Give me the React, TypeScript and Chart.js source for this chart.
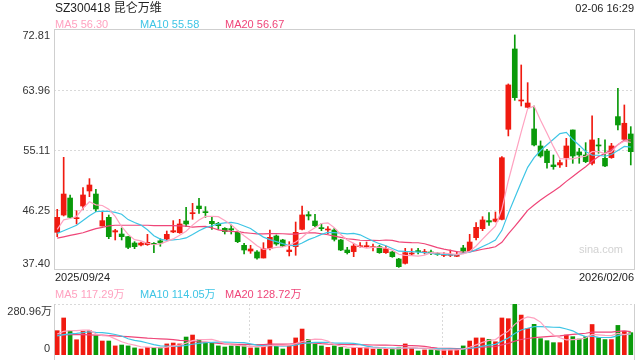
import React, { useEffect, useRef } from "react";
import { Chart, registerables } from "chart.js";

Chart.register(...registerables);

const FONT = '"Liberation Sans", Arial, "Noto Sans CJK SC", sans-serif';
const RED = "#f01a10";
const GREEN = "#0a9a0a";
const MA5_COLOR = "#ffa2c0";
const MA10_COLOR = "#3ec5e5";
const MA20_COLOR = "#ef4679";

// trading days (categories)
const sepDays = [24, 25, 26, 29, 30];
const octDays = [9, 10, 13, 14, 15, 16, 17, 20, 21, 22, 23, 24, 27, 28, 29, 30, 31];
const novDays = [3, 4, 5, 6, 7, 10, 11, 12, 13, 14, 17, 18, 19, 20, 21, 24, 25, 26, 27, 28];
const decDays = [1, 2, 3, 4, 5, 8, 9, 10, 11, 12, 15, 16, 17, 18, 19, 22, 23, 24, 25, 26, 29, 30, 31];
const janDays = [5, 6, 7, 8, 9, 12, 13, 14, 15, 16, 19, 20, 21, 22, 23, 26, 27, 28, 29, 30];
const febDays = [2, 3, 4, 5, 6];

const pad = (n: number) => (n < 10 ? "0" + n : "" + n);
const dates: string[] = [
  ...sepDays.map((d) => `2025/09/${pad(d)}`),
  ...octDays.map((d) => `2025/10/${pad(d)}`),
  ...novDays.map((d) => `2025/11/${pad(d)}`),
  ...decDays.map((d) => `2025/12/${pad(d)}`),
  ...janDays.map((d) => `2026/01/${pad(d)}`),
  ...febDays.map((d) => `2026/02/${pad(d)}`),
];

const opens = [
  42.96, 45.51, 48.02, 44.97, 46.84, 49.06, 48.61, 43.89, 45.17, 43.01,
  42.71, 42.32, 41.38, 41.09, 41.14, 41.33, 41.7, 41.97, 43.01, 42.91,
  44.63, 45.71, 46.84, 45.96, 44.58, 44.29, 43.55, 43.5, 43.06, 41.04,
  40.2, 40.06, 39.17, 40.55, 42.42, 41.83, 40.11, 40.84, 43.4, 45.57,
  44.63, 43.65, 43.3, 43.3, 41.83, 40.35, 40.11, 40.84, 40.84, 40.7,
  40.84, 39.96, 40.06, 39.02, 38.38, 39.76, 40.25, 39.96, 40.06, 39.81,
  39.56, 39.56, 39.42, 40.65, 40.2, 42.17, 43.5, 44.68, 44.58, 44.87,
  58.16, 70.01, 62.34, 61.4, 58.21, 55.7, 54.96, 52.9, 52.9, 53.98,
  58.06, 54.82, 54.37, 53.14, 55.85, 53.88, 53.98, 60.03, 56.68, 57.47,
];
const highs = [
  46.35, 54.02, 48.47, 46.15, 49.55, 50.88, 49.3, 46.01, 45.51, 43.4,
  43.6, 42.37, 41.58, 41.53, 42.66, 41.43, 42.0, 43.15, 44.68, 44.88,
  46.65, 47.24, 47.98, 46.75, 45.17, 44.43, 43.65, 44.04, 43.2, 41.34,
  41.04, 40.25, 41.43, 43.3, 42.57, 41.93, 41.58, 44.48, 46.84, 46.01,
  45.61, 44.29, 43.79, 43.55, 41.93, 40.75, 41.34, 41.43, 41.53, 41.24,
  41.04, 40.94, 40.16, 39.12, 40.6, 40.55, 40.6, 40.45, 40.35, 39.96,
  39.96, 40.35, 40.11, 41.04, 42.66, 44.38, 45.27, 45.86, 45.96, 54.12,
  64.85, 72.08, 67.65, 65.04, 61.6, 56.44, 55.21, 54.37, 53.63, 56.83,
  58.06, 55.36, 56.19, 60.13, 56.83, 56.59, 56.09, 64.21, 61.75, 58.55,
];
const lows = [
  42.32, 45.37, 45.1, 44.19, 46.35, 48.22, 46.01, 43.89, 42.02, 41.83,
  41.83, 40.55, 40.55, 40.94, 41.04, 39.96, 40.9, 41.83, 42.91, 42.81,
  43.79, 44.88, 45.76, 45.17, 43.4, 43.4, 42.71, 42.71, 41.43, 39.76,
  39.86, 38.98, 39.17, 40.35, 41.04, 40.84, 39.47, 39.57, 43.3, 44.78,
  43.79, 43.2, 42.71, 41.68, 40.25, 39.76, 39.37, 40.75, 40.75, 40.2,
  39.86, 39.86, 39.27, 37.79, 38.28, 39.56, 39.76, 39.76, 39.66, 39.56,
  39.37, 39.37, 39.37, 39.96, 40.11, 41.83, 43.2, 43.99, 44.48, 44.78,
  57.18, 62.44, 61.6, 61.4, 55.7, 54.03, 52.41, 52.26, 52.55, 52.65,
  53.14, 53.14, 53.24, 52.9, 54.62, 52.65, 53.88, 58.06, 56.59, 52.9,
];
const closes = [
  45.17, 48.61, 45.17, 45.12, 48.47, 49.94, 46.4, 44.68, 42.32, 43.2,
  42.32, 40.74, 40.84, 41.38, 41.48, 41.19, 41.4, 42.66, 43.2, 44.19,
  44.19, 45.86, 46.45, 45.86, 44.24, 43.94, 43.06, 43.3, 41.58, 40.35,
  40.5, 39.17, 40.55, 42.22, 41.24, 40.94, 40.35, 42.96, 45.52, 45.37,
  43.94, 43.5, 43.45, 41.93, 40.35, 39.96, 40.94, 40.94, 40.94, 40.84,
  39.96, 40.55, 39.37, 37.89, 39.96, 39.86, 40.11, 40.06, 39.86, 39.71,
  39.66, 39.71, 39.56, 40.2, 41.53, 43.7, 44.78, 44.48, 44.92, 53.97,
  64.7, 62.83, 62.49, 62.04, 55.85, 54.22, 53.24, 52.65, 53.24, 55.7,
  54.22, 54.37, 53.39, 56.59, 55.7, 52.75, 55.7, 58.8, 59.05, 54.86,
];
// volume, in 万
const volumes = [
  134, 204, 132, 84, 130, 134, 106, 77, 77, 50,
  55, 50, 39, 33, 42, 42, 40, 61, 66, 61,
  99, 110, 86, 68, 68, 50, 44, 50, 52, 50,
  39, 40, 50, 83, 50, 33, 52, 94, 143, 86,
  60, 50, 42, 50, 42, 33, 42, 40, 40, 33,
  33, 33, 33, 39, 61, 37, 22, 28, 28, 28,
  28, 28, 31, 50, 77, 94, 94, 86, 73, 204,
  200, 280.96, 220, 146, 169, 90, 79, 68, 68, 110,
  101, 88, 101, 168, 96, 85, 85, 163, 131, 123,
];

// moving-average values at the start of the window
const ma5Head = [43.4, 44.8, 45.0, 45.3];
const ma10Head = [42.8, 43.2, 43.6, 44.0, 44.7, 45.4, 46.0, 46.1, 46.05];
const ma20Head = [42.1, 42.3, 42.5, 42.7, 42.9, 43.2, 43.5, 43.7, 43.9, 44.0, 44.0, 44.0, 44.0, 44.0, 44.0, 43.95, 43.95, 43.95, 43.95];
const vma5Head = [116, 130, 134, 134];
const vma10Head = [105, 112, 116, 119, 123, 128, 125, 123, 119];
const vma20Head = [110, 111, 112, 112, 112, 111, 110, 109, 107, 105, 103, 101, 99, 96, 93, 91, 89, 87, 85];

const priceTicks = [72.81, 63.96, 55.11, 46.25, 37.4];
const volumeMax = 280.96;
const volumeTickLabels = ["280.96万", "0"];

const title = "SZ300418 昆仑万维";
const timeText = "02-06 16:29";
const priceLegend = [
  { text: "MA5 56.30", color: MA5_COLOR, x: 55 },
  { text: "MA10 55.58", color: MA10_COLOR, x: 140 },
  { text: "MA20 56.67", color: MA20_COLOR, x: 225 },
];
const volumeLegend = [
  { text: "MA5 117.29万", color: MA5_COLOR, x: 55 },
  { text: "MA10 114.05万", color: MA10_COLOR, x: 140 },
  { text: "MA20 128.72万", color: MA20_COLOR, x: 225 },
];

function movingAvg(src: number[], n: number, head: number[]): number[] {
  return src.map((_, i) => {
    if (i < n - 1) return head[i];
    let s = 0;
    for (let k = i - n + 1; k <= i; k++) s += src[k];
    return s / n;
  });
}

const candleColors = closes.map((c, i) => (c >= opens[i] ? RED : GREEN));

function lineDs(label: string, data: number[], color: string) {
  return {
    type: "line" as const,
    label,
    data,
    borderColor: color,
    backgroundColor: color,
    borderWidth: 1.2,
    pointRadius: 0,
    tension: 0,
    order: 0,
  };
}

const mainDeco = {
  id: "mainDeco",
  beforeDatasetsDraw(chart: any) {
    const { ctx, chartArea: a, scales } = chart;
    const y = scales.y;
    ctx.save();
    ctx.lineWidth = 1;
    ctx.strokeStyle = "#d9d9d9";
    ctx.setLineDash([2, 2]);
    priceTicks.slice(1, -1).forEach((v) => {
      const py = Math.round(y.getPixelForValue(v)) + 0.5;
      ctx.beginPath();
      ctx.moveTo(a.left, py);
      ctx.lineTo(a.right, py);
      ctx.stroke();
    });
    ctx.setLineDash([]);
    ctx.strokeStyle = "#cfcfcf";
    ctx.strokeRect(a.left + 0.5, a.top - 0.5, a.right - a.left, a.bottom - a.top);
    // watermark
    ctx.fillStyle = "#d2d2d2";
    ctx.font = `11px ${FONT}`;
    ctx.textAlign = "right";
    ctx.textBaseline = "alphabetic";
    ctx.fillText("sina.com", a.right - 11, a.bottom - 17);
    ctx.restore();
  },
  afterDraw(chart: any) {
    const { ctx, chartArea: a, scales } = chart;
    const y = scales.y;
    ctx.save();
    ctx.textBaseline = "alphabetic";
    ctx.textAlign = "left";
    ctx.fillStyle = "#222";
    ctx.font = `12px ${FONT}`;
    ctx.fillText(title, 55, 12);
    ctx.font = `11px ${FONT}`;
    ctx.textAlign = "right";
    ctx.fillText(timeText, a.right, 12);
    ctx.textAlign = "left";
    priceLegend.forEach((l) => {
      ctx.fillStyle = l.color;
      ctx.fillText(l.text, l.x, 28);
    });
    ctx.fillStyle = "#333";
    ctx.textAlign = "right";
    priceTicks.forEach((v, i) => {
      const py = y.getPixelForValue(v);
      const base = i === 0 ? py + 9 : i === priceTicks.length - 1 ? py - 3 : py + 4;
      ctx.fillText(v.toFixed(2), 50, base);
    });
    ctx.fillStyle = "#222";
    ctx.textAlign = "left";
    ctx.fillText(dates[0], a.left + 1, 281);
    ctx.textAlign = "right";
    ctx.fillText(dates[dates.length - 1], a.right, 281);
    ctx.restore();
  },
};

const volDeco = {
  id: "volDeco",
  beforeDatasetsDraw(chart: any) {
    const { ctx, chartArea: a, scales } = chart;
    const x = scales.x;
    ctx.save();
    ctx.lineWidth = 1;
    ctx.strokeStyle = "#d9d9d9";
    ctx.setLineDash([2, 2]);
    ctx.beginPath();
    ctx.moveTo(a.left, a.top + 0.5);
    ctx.lineTo(a.right, a.top + 0.5);
    ctx.stroke();
    [29.75, 59.75].forEach((v) => {
      const px = Math.round(x.getPixelForValue(v)) + 0.5;
      ctx.beginPath();
      ctx.moveTo(px, a.top);
      ctx.lineTo(px, a.bottom + 5);
      ctx.stroke();
    });
    ctx.setLineDash([]);
    ctx.strokeStyle = "#cfcfcf";
    ctx.beginPath();
    ctx.moveTo(a.left + 0.5, a.top);
    ctx.lineTo(a.left + 0.5, a.bottom + 5);
    ctx.moveTo(a.right + 0.5, a.top);
    ctx.lineTo(a.right + 0.5, a.bottom + 5);
    ctx.stroke();
    ctx.restore();
  },
  afterDraw(chart: any) {
    const { ctx, chartArea: a } = chart;
    ctx.save();
    ctx.textBaseline = "alphabetic";
    ctx.font = `11px ${FONT}`;
    ctx.textAlign = "left";
    volumeLegend.forEach((l) => {
      ctx.fillStyle = l.color;
      ctx.fillText(l.text, l.x, 13);
    });
    ctx.fillStyle = "#333";
    ctx.textAlign = "right";
    ctx.fillText(volumeTickLabels[0], 52, a.top + 11);
    ctx.fillText(volumeTickLabels[1], 50, a.bottom - 3);
    ctx.restore();
  },
};

export default function App() {
  const mainRef = useRef<HTMLCanvasElement>(null);
  const volRef = useRef<HTMLCanvasElement>(null);

  useEffect(() => {
    const ma5 = movingAvg(closes, 5, ma5Head);
    const ma10 = movingAvg(closes, 10, ma10Head);
    const ma20 = movingAvg(closes, 20, ma20Head);
    const vma5 = movingAvg(volumes, 5, vma5Head);
    const vma10 = movingAvg(volumes, 10, vma10Head);
    const vma20 = movingAvg(volumes, 20, vma20Head);

    const main = new Chart(mainRef.current as HTMLCanvasElement, {
      type: "bar",
      data: {
        labels: dates,
        datasets: [
          lineDs("MA5", ma5, MA5_COLOR),
          lineDs("MA10", ma10, MA10_COLOR),
          lineDs("MA20", ma20, MA20_COLOR),
          {
            type: "bar",
            label: "wick",
            data: lows.map((l, i) => [l, highs[i]]),
            backgroundColor: candleColors,
            barThickness: 1,
            grouped: false,
            order: 2,
          } as any,
          {
            type: "bar",
            label: "body",
            data: opens.map((o, i) => [Math.min(o, closes[i]), Math.max(o, closes[i])]),
            backgroundColor: candleColors,
            barThickness: 5,
            minBarLength: 1,
            grouped: false,
            order: 1,
          } as any,
        ],
      },
      options: {
        responsive: false,
        animation: false,
        devicePixelRatio: 1,
        layout: { padding: { left: 54, right: 6, top: 30, bottom: 15 } },
        plugins: { legend: { display: false }, tooltip: { enabled: false } },
        scales: {
          x: { display: false, offset: true },
          y: { display: false, min: priceTicks[priceTicks.length - 1], max: priceTicks[0] },
        },
      },
      plugins: [mainDeco],
    } as any);

    const vol = new Chart(volRef.current as HTMLCanvasElement, {
      type: "bar",
      data: {
        labels: dates,
        datasets: [
          lineDs("MA5", vma5, MA5_COLOR),
          lineDs("MA10", vma10, MA10_COLOR),
          lineDs("MA20", vma20, MA20_COLOR),
          {
            type: "bar",
            label: "volume",
            data: volumes,
            backgroundColor: candleColors,
            barThickness: 4,
            grouped: false,
            order: 1,
          } as any,
        ],
      },
      options: {
        responsive: false,
        animation: false,
        devicePixelRatio: 1,
        layout: { padding: { left: 54, right: 6, top: 19, bottom: 5 } },
        plugins: { legend: { display: false }, tooltip: { enabled: false } },
        scales: {
          x: { display: false, offset: true },
          y: { display: false, min: 0, max: volumeMax },
        },
      },
      plugins: [volDeco],
    } as any);

    return () => {
      main.destroy();
      vol.destroy();
    };
  }, []);

  return (
    <div style={{ position: "fixed", left: 0, top: 0, width: 640, height: 360, background: "#fff" }}>
      <canvas
        ref={mainRef}
        width={640}
        height={285}
        style={{ position: "absolute", left: 0, top: 0, width: 640, height: 285 }}
      />
      <canvas
        ref={volRef}
        width={640}
        height={75}
        style={{ position: "absolute", left: 0, top: 285, width: 640, height: 75 }}
      />
    </div>
  );
}
